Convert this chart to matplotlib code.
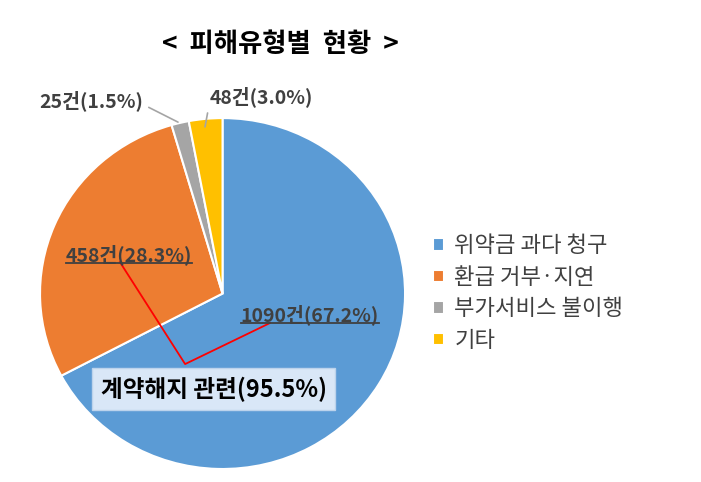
import matplotlib
matplotlib.use('Agg')
import matplotlib.pyplot as plt
from matplotlib.lines import Line2D

plt.rcParams['font.family'] = ['Noto Sans CJK KR', 'DejaVu Sans']

# 피해유형별 데이터
유형 = ['위약금 과다 청구', '환급 거부·지연', '부가서비스 불이행', '기타']
건수 = [1090, 458, 25, 48]
비율 = [67.2, 28.3, 1.5, 3.0]
색상 = ['#5B9BD5', '#ED7D31', '#A5A5A5', '#FFC000']
묶음라벨 = '계약해지 관련(95.5%)'

fig = plt.figure(figsize=(7.01, 4.82), dpi=100)
ax = fig.add_axes([0.0571, 0.027, 0.5207, 0.728])

wedges, _ = ax.pie(건수, colors=색상, startangle=90, counterclock=False,
                   radius=1, wedgeprops=dict(edgecolor='white', linewidth=1.5))
ax.set_xlim(-1, 1)
ax.set_ylim(-1, 1)
ax.set_aspect('auto')

fig.text(0.40, 0.907, '<  피해유형별  현황  >', ha='center', va='center',
         fontsize=19, fontweight='bold', color='black')

라벨 = [f'{n}건({p:.1f}%)' for n, p in zip(건수, 비율)]
글자색 = '#404040'

# 작은 조각: 지시선 라벨
ax.annotate(라벨[2], xy=(-0.244, 0.977), xytext=(-0.433, 1.10),
            ha='right', va='center', fontsize=14, fontweight='bold', color=글자색,
            arrowprops=dict(arrowstyle='-', color='#A5A5A5', lw=1.2,
                            shrinkA=2, shrinkB=0, relpos=(1, 0.3)))
ax.annotate(라벨[3], xy=(-0.096, 0.95), xytext=(-0.07, 1.12),
            ha='left', va='center', fontsize=14, fontweight='bold', color=글자색,
            arrowprops=dict(arrowstyle='-', color='#A5A5A5', lw=1.2,
                            shrinkA=2, shrinkB=0, relpos=(0, 0.3)))

# 큰 조각: 밑줄 라벨
t_or = ax.text(-0.512, 0.219, 라벨[1], ha='center', va='center', fontsize=14,
               fontweight='bold', color=글자색)
t_bl = ax.text(0.479, -0.123, 라벨[0], ha='center', va='center', fontsize=14,
               fontweight='bold', color=글자색)

# 빨간 연결선
ax.plot([-0.562, -0.205, 0.260], [0.179, -0.402, -0.168], color='#FF0000', lw=1.3)

ax.text(-0.049, -0.544, 묶음라벨, ha='center', va='center', fontsize=17,
        fontweight='bold', color='black',
        bbox=dict(boxstyle='square,pad=0.35', fc='#D9E7F7', ec='#BCD3EC', lw=1))

ax.legend(wedges, 유형, loc='center left', bbox_to_anchor=(0.618, 0.392),
          bbox_transform=fig.transFigure, frameon=False, fontsize=16,
          handlelength=0.5, handleheight=0.5, handletextpad=0.45,
          labelspacing=0.38, borderpad=0, borderaxespad=0, labelcolor=글자색)

# 밑줄 그리기
fig.canvas.draw()
r = fig.canvas.get_renderer()
for t in (t_or, t_bl):
    bb = t.get_window_extent(r).transformed(fig.transFigure.inverted())
    fig.add_artist(Line2D([bb.x0, bb.x1], [bb.y0 + 0.006, bb.y0 + 0.006],
                          color=글자색, lw=1.3, transform=fig.transFigure))

fig.savefig('out.png', dpi=100)
